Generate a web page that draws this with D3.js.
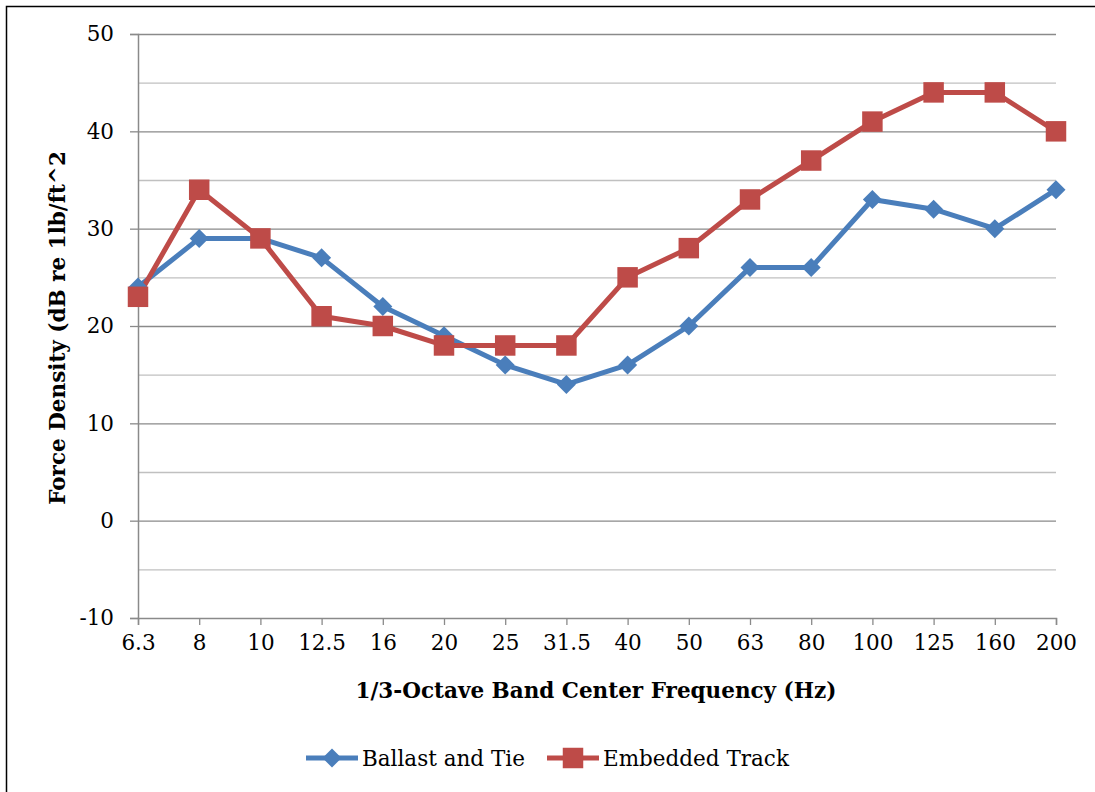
<!DOCTYPE html>
<html><head><meta charset="utf-8">
<script src="https://cdn.jsdelivr.net/npm/d3@7"></script>
<style>body{margin:0;background:#fff;} svg{display:block;}</style>
</head><body>
<svg id="c" width="1095" height="792"></svg>
<script>
const categories = ["6.3","8","10","12.5","16","20","25","31.5","40","50","63","80","100","125","160","200"];
const ballast = [24,29,29,27,22,19,16,14,16,20,26,26,33,32,30,34];
const embedded = [23,34,29,21,20,18,18,18,25,28,33,37,41,44,44,40];
const yTicks = [-10,0,10,20,30,40,50];
const yGrid = [-5,0,5,10,15,20,25,30,35,40,45,50];
const seriesNames = ["Ballast and Tie","Embedded Track"];
const colors = ["#4a7ebb","#be4b48"];
const FONT = "'DejaVu Serif', serif";
const FS = 21.5;

const svg = d3.select("#c");
svg.append("rect").attr("x",6.5).attr("y",6.5).attr("width",1095).attr("height",792)
  .attr("fill","#fff").attr("stroke","#000").attr("stroke-width",1.5);

const L=138, R=1056, T=34, B=618;
const x = d3.scalePoint().domain(categories).range([L,R]).padding(0);
const y = d3.scaleLinear().domain([-10,50]).range([B,T]);

// gridlines
svg.append("g").selectAll("line").data(yGrid).join("line")
  .attr("x1",L).attr("x2",R).attr("y1",d=>y(d)+0.5).attr("y2",d=>y(d)+0.5)
  .attr("stroke",d=>d%10===0?"#8a8a8a":"#c0c0c0").attr("stroke-width",1.3);

// y axis
const ya = svg.append("g").attr("transform",`translate(${L},0)`)
  .call(d3.axisLeft(y).tickValues(yTicks).tickSize(8).tickPadding(16).tickFormat(d=>String(d)));
ya.select(".domain").attr("stroke","#8a8a8a").attr("stroke-width",1.5);
ya.selectAll(".tick line").attr("stroke","#8a8a8a").attr("stroke-width",1.3);
ya.selectAll("text").attr("font-family",FONT).attr("font-size",FS).attr("fill","#000");

// x axis
const xa = svg.append("g").attr("transform",`translate(0,${B})`)
  .call(d3.axisBottom(x).tickSize(7).tickPadding(10));
xa.select(".domain").attr("stroke","#8a8a8a").attr("stroke-width",1.5);
xa.selectAll(".tick line").attr("stroke","#8a8a8a").attr("stroke-width",1.3);
xa.selectAll("text").attr("font-family",FONT).attr("font-size",FS).attr("fill","#000");

// titles
svg.append("text").attr("x",596).attr("y",698).attr("text-anchor","middle")
  .attr("font-family",FONT).attr("font-weight","bold").attr("font-size",FS)
  .text("1/3-Octave Band Center Frequency (Hz)");
svg.append("text").attr("transform","translate(65,328) rotate(-90)").attr("text-anchor","middle")
  .attr("font-family",FONT).attr("font-weight","bold").attr("font-size",FS)
  .text("Force Density (dB re 1lb/ft^2");

const line = d3.line().x((d,i)=>x(categories[i])).y(d=>y(d));
const diamond = d3.symbol().type(d3.symbolDiamond2).size(230);
const square = d3.symbol().type(d3.symbolSquare).size(420);

[ballast, embedded].forEach((vals,k)=>{
  svg.append("path").datum(vals).attr("d",line).attr("fill","none")
    .attr("stroke",colors[k]).attr("stroke-width",5).attr("stroke-linejoin","round");
});
[ballast, embedded].forEach((vals,k)=>{
  svg.append("g").selectAll("path").data(vals).join("path")
    .attr("transform",(d,i)=>`translate(${x(categories[i])},${y(d)})`)
    .attr("d",k===0?diamond:square).attr("fill",colors[k]);
});

// legend
const leg = [{x0:306,name:seriesNames[0]},{x0:547,name:seriesNames[1]}];
leg.forEach((l,k)=>{
  const g = svg.append("g").attr("transform",`translate(${l.x0},758)`);
  g.append("line").attr("x1",0).attr("x2",52).attr("stroke",colors[k]).attr("stroke-width",5);
  g.append("path").attr("transform","translate(26,0)").attr("d",k===0?diamond:square).attr("fill",colors[k]);
  g.append("text").attr("x",56).attr("y",8).attr("font-family",FONT).attr("font-size",FS).text(l.name);
});
</script>
</body></html>
